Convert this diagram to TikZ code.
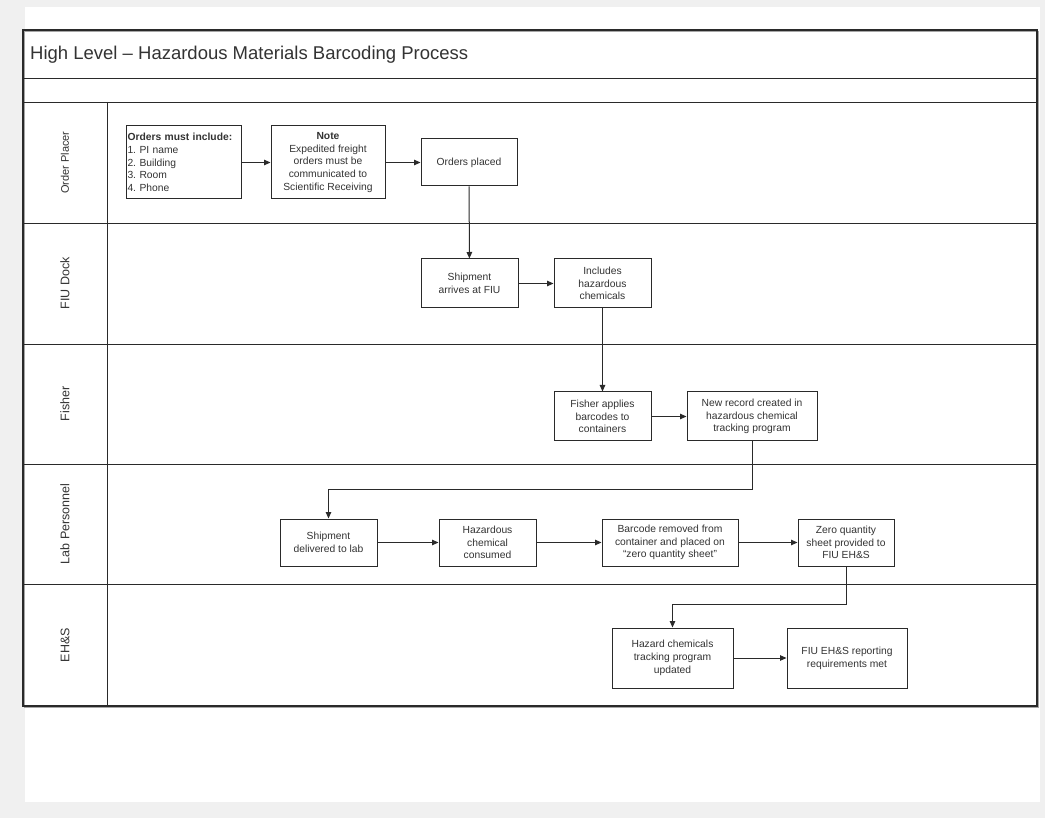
\documentclass[tikz,border=0pt]{standalone}
\usepackage{fontspec}
\setmainfont{Liberation Sans}
\usetikzlibrary{arrows.meta}
\definecolor{bggray}{HTML}{F0F0F0}
\definecolor{linec}{HTML}{2A2A2A}
\definecolor{txtc}{HTML}{333333}
\tikzset{
  box/.style={draw=linec, line width=1pt, fill=white, align=center, text=txtc,
    font=\fontsize{10.3}{12.8}\selectfont, inner sep=1pt},
  conn/.style={draw=linec, line width=1pt, -{Triangle[length=6.5pt,width=5.5pt]}},
  lane/.style={draw=linec, line width=0.9pt},
  lanelabel/.style={rotate=90, text=txtc, font=\fontsize{12.5}{14}\selectfont},
}
\begin{document}
\frenchspacing
\begin{tikzpicture}[x=1pt,y=-1pt]
\useasboundingbox (0,0) rectangle (1045,818);
\fill[bggray] (0,0) rectangle (1045,818);
\fill[white] (25,7) rectangle (1040,802);
% frame shadow and frame
\draw[gray!70, line width=1.2pt] (24.5,31.5) rectangle (1038.5,707.5);
\draw[lane, line width=1.2pt] (23,30) rectangle (1037,706);
\draw[lane] (23,78) -- (1037,78);
\draw[lane] (23,102) -- (1037,102);
\draw[lane] (107,102) -- (107,706);
\draw[lane] (23,223) -- (1037,223);
\draw[lane] (23,344) -- (1037,344);
\draw[lane] (23,464) -- (1037,464);
\draw[lane] (23,584) -- (1037,584);
% title
\node[anchor=west, inner sep=0pt, text=txtc, font=\fontsize{18.5}{21}\selectfont] (title) at (30,55) {High Level – Hazardous Materials Barcoding Process};
% lane labels
\node[lanelabel, font=\fontsize{11}{13}\selectfont] (l1) at (65,162.5) {Order Placer};
\node[lanelabel] (l2) at (65,283.5) {FIU Dock};
\node[lanelabel] (l3) at (65,404) {Fisher};
\node[lanelabel] (l4) at (65,524) {Lab Personnel};
\node[lanelabel] (l5) at (65,645) {EH\&S};
% nodes
\node[box, minimum width=115pt, minimum height=73pt, align=left, text width=112pt] (inc) at (183.5,162.5)
  {\textbf{Orders must include:}\\1. PI name\\2. Building\\3. Room\\4. Phone};
\node[box, minimum width=114pt, minimum height=73pt] (note) at (328,162.5)
  {\textbf{Note}\\Expedited freight\\orders must be\\communicated to\\Scientific Receiving};
\node[box, minimum width=96pt, minimum height=47pt] (placed) at (469,162.5) {Orders placed};
\node[box, minimum width=97pt, minimum height=49pt] (arrives) at (469.5,283.5) {Shipment\\arrives at FIU};
\node[box, minimum width=97pt, minimum height=49pt] (hazinc) at (602.5,283.5) {Includes\\hazardous\\chemicals};
\node[box, minimum width=97pt, minimum height=49pt] (applies) at (602.5,416.5) {Fisher applies\\barcodes to\\containers};
\node[box, minimum width=130pt, minimum height=49pt] (record) at (752,416.5) {New record created in\\hazardous chemical\\tracking program};
\node[box, minimum width=97pt, minimum height=47pt] (delivered) at (328.5,542.5) {Shipment\\delivered to lab};
\node[box, minimum width=97pt, minimum height=47pt] (consumed) at (487.5,542.5) {Hazardous\\chemical\\consumed};
\node[box, minimum width=136pt, minimum height=47pt] (removed) at (670,542.5) {Barcode removed from\\container and placed on\\“zero quantity sheet”};
\node[box, minimum width=96pt, minimum height=47pt] (zero) at (846,542.5) {Zero quantity\\sheet provided to\\FIU EH\&S};
\node[box, minimum width=121pt, minimum height=60pt] (updated) at (672.5,658) {Hazard chemicals\\tracking program\\updated};
\node[box, minimum width=120pt, minimum height=60pt] (met) at (847,658) {FIU EH\&S reporting\\requirements met};
% bend levels
\coordinate (k1) at (0,489);
\coordinate (k2) at (0,604);
% connectors
\draw[conn] (inc) -- (note);
\draw[conn] (note.east |- placed.west) -- (placed.west);
\draw[conn] (placed) -- (arrives);
\draw[conn] (arrives) -- (hazinc);
\draw[conn] (hazinc) -- (applies);
\draw[conn] (applies) -- (record);
\draw[conn] (record.south) -- (record.south |- k1) -| (delivered.north);
\draw[conn] (delivered) -- (consumed);
\draw[conn] (consumed) -- (removed);
\draw[conn] (removed) -- (zero);
\draw[conn] (zero.south) -- (zero.south |- k2) -| (updated.north);
\draw[conn] (updated) -- (met);
\end{tikzpicture}
\end{document}
